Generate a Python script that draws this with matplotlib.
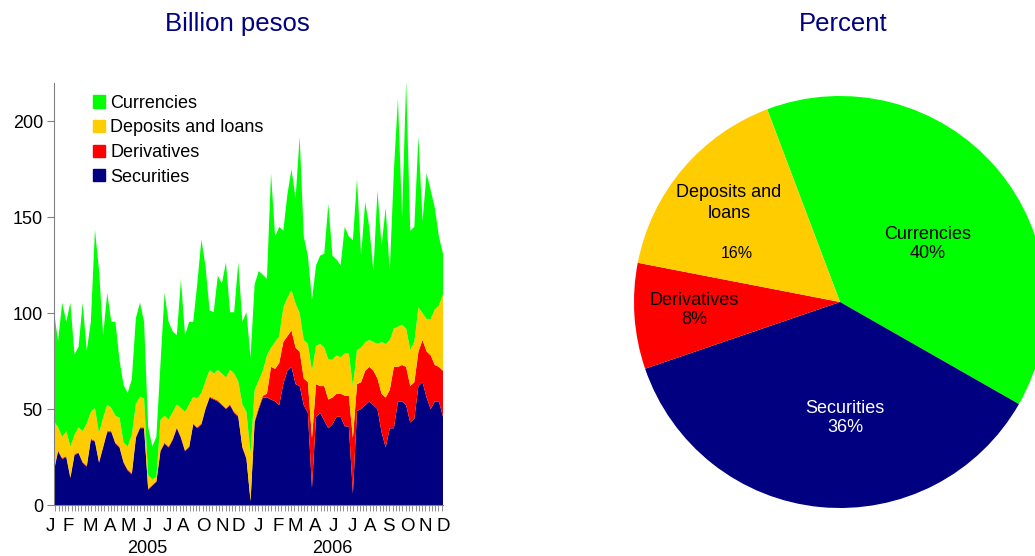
import numpy as np
import matplotlib
matplotlib.use("Agg")
from matplotlib import pyplot as plt
from matplotlib import transforms

plt.rcParams['font.family'] = ['Liberation Sans', 'DejaVu Sans']

## Data: transactions by instrument, 4 readings per month, Jan 2005 - Dec 2006 (billion pesos)
securities = [18, 28, 24, 25, 14, 26, 27, 22, 20, 34, 33, 22, 30, 38, 38, 32,
              30, 22, 18, 16, 35, 40, 40, 8, 10, 12, 28, 32, 30, 34, 40, 35,
              28, 30, 42, 40, 42, 50, 56, 55, 54, 52, 50, 52, 48, 46, 30, 24,
              2, 43, 50, 56, 56, 55, 54, 52, 63, 70, 72, 63, 62, 52, 48, 9,
              46, 48, 44, 40, 42, 46, 46, 41, 41, 6, 49, 50, 52, 54, 52, 50,
              38, 30, 40, 40, 54, 54, 52, 43, 45, 62, 64, 56, 50, 54, 54, 46]
derivatives = [0.5] * 48 + [
              0, 1, 1, 1, 2, 17, 17, 22, 22, 18, 19, 19, 18, 14, 16, 26,
              17, 14, 18, 15, 14, 12, 12, 16, 16, 29, 14, 14, 18, 18, 18, 16,
              20, 26, 20, 32, 18, 19, 20, 19, 19, 18, 22, 24, 28, 19, 18, 24]
deposits = [25, 12, 11, 13, 16, 10, 13, 16, 22, 14, 17, 15, 15, 14, 12, 14,
            15, 10, 12, 20, 17, 16, 15, 7, 3, 2, 16, 14, 14, 14, 12, 15,
            20, 22, 14, 15, 16, 14, 14, 13, 16, 16, 16, 18, 20, 18, 22, 24,
            25, 16, 14, 13, 20, 10, 14, 14, 18, 20, 21, 23, 20, 20, 20, 35,
            20, 22, 20, 21, 20, 20, 19, 22, 22, 27, 18, 18, 15, 14, 15, 18,
            27, 28, 26, 20, 21, 21, 20, 19, 21, 23, 14, 17, 19, 29, 32, 40]
currencies = [57, 45, 70, 57, 75, 42, 42, 67, 38, 47, 93, 85, 43, 58, 45, 49,
              30, 30, 28, 29, 45, 49, 40, 25, 17, 21, 29, 64, 51, 42, 36, 67,
              40, 43, 39, 60, 80, 60, 31, 32, 49, 47, 60, 30, 32, 62, 43, 52,
              50, 55, 57, 50, 40, 91, 55, 57, 40, 54, 63, 55, 92, 54, 46, 37,
              42, 46, 49, 81, 54, 50, 48, 66, 61, 76, 89, 48, 73, 59, 37, 80,
              50, 71, 36, 82, 119, 56, 129, 62, 60, 89, 48, 76, 67, 53, 36, 21]

month_letters = ["J", "F", "M", "A", "M", "J", "J", "A", "O", "N", "D",
                 "J", "F", "M", "A", "J", "J", "A", "S", "O", "N", "D"]
years = ["2005", "2006"]

pie_labels = ["Currencies", "Securities", "Derivatives", "Deposits and loans"]
pie_shares = [39.0, 36.5, 8.3, 16.2]
pie_pct = ["40%", "36%", "8%", "16%"]

colors = {"Currencies": "#00FF00", "Deposits and loans": "#FFCC00",
          "Derivatives": "#FF0000", "Securities": "#000080"}

fig = plt.figure(figsize=(10.35, 5.56), dpi=100)

# ---- left: stacked area
ax = fig.add_axes([54 / 1035, 51 / 556, 389 / 1035, 422 / 556])
x = np.arange(len(securities)) * 0.25 + 0.125
ax.stackplot(x, securities, derivatives, deposits, currencies,
             colors=[colors["Securities"], colors["Derivatives"],
                     colors["Deposits and loans"], colors["Currencies"]],
             linewidth=0)
ax.set_xlim(0.125, 23.875)
ax.set_ylim(0, 220)
ax.set_yticks([0, 50, 100, 150, 200])
for s in ["top", "right"]:
    ax.spines[s].set_visible(False)
ax.spines["left"].set_color("#808080")
ax.spines["bottom"].set_color("#808080")
ax.tick_params(axis="y", labelsize=13, length=5, color="#808080", pad=3)
ax.set_xticks([])
ax.set_xticks(np.arange(0.2, 23.9, 0.2), minor=True)
ax.tick_params(axis="x", which="minor", length=4, color="#808080")

month_pos = [-0.12, 0.98, 2.32, 3.54, 4.64, 5.8, 7.02, 8.0, 9.22, 10.38, 11.36,
             12.58, 13.8, 14.84, 16.06, 17.16, 18.32, 19.42, 20.52, 21.68, 22.77, 23.875]
trans = transforms.blended_transform_factory(ax.transData, ax.transAxes)
for lab, p in zip(month_letters, month_pos):
    ax.text(p, -0.05, lab, transform=trans, ha="center", va="center",
            fontsize=13.5, clip_on=False)
for lab, p in zip(years, [5.8, 17.1]):
    ax.text(p, -0.104, lab, transform=trans, ha="center", va="center",
            fontsize=13, clip_on=False)

handles = [plt.Rectangle((0, 0), 1, 1, color=colors[k])
           for k in ["Currencies", "Deposits and loans", "Derivatives", "Securities"]]
ax.legend(handles, ["Currencies", "Deposits and loans", "Derivatives", "Securities"],
          loc="upper left", bbox_to_anchor=(0.1, 0.972), frameon=False,
          fontsize=13, handlelength=0.65, handleheight=0.65, handletextpad=0.3,
          labelspacing=0.42, borderpad=0, borderaxespad=0)

fig.text(237 / 1035, 1 - 24 / 556, "Billion pesos", ha="center", va="center",
         fontsize=18.5, color="#000080")
fig.text(843 / 1035, 1 - 24 / 556, "Percent", ha="center", va="center",
         fontsize=18.5, color="#000080")

# ---- right: pie
pax = fig.add_axes([634 / 1035, 48 / 556, 412 / 1035, 412 / 556])
pax.pie(pie_shares, colors=[colors[k] for k in pie_labels], startangle=110.7,
        counterclock=False, radius=1, wedgeprops=dict(linewidth=0))
pax.set_xlim(-1, 1)
pax.set_ylim(-1, 1)
pax.set_aspect("equal")
pax.axis("off")

pax.text(0.427, 0.282, "Currencies\n40%", ha="center", va="center", fontsize=13,
         linespacing=1.2)
pax.text(0.024, -0.563, "Securities\n36%", ha="center", va="center", fontsize=13,
         color="white", linespacing=1.2)
pax.text(-0.709, -0.039, "Derivatives\n8%", ha="center", va="center", fontsize=13,
         linespacing=1.2)
pax.text(-0.539, 0.48, "Deposits and\nloans", ha="center", va="center", fontsize=13,
         linespacing=1.25)
pax.text(-0.5, 0.237, "16%", ha="center", va="center", fontsize=11.5)

fig.savefig("out.png", dpi=100)
